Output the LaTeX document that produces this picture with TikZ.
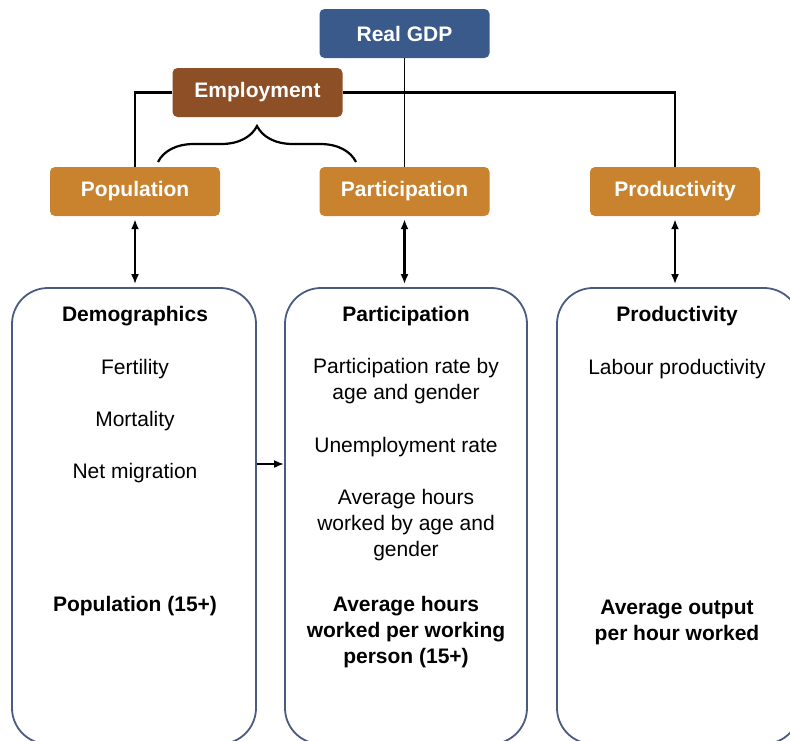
\documentclass[tikz,border=0pt]{standalone}
\usepackage{fontspec}
\setmainfont{Liberation Sans}
\usetikzlibrary{arrows.meta,decorations.pathreplacing}
\definecolor{gdpblue}{HTML}{3A5A8C}
\definecolor{empbrown}{HTML}{8C4F26}
\definecolor{factorange}{HTML}{C9832F}
\definecolor{colline}{HTML}{4A5A80}
\newcommand{\bigtext}{\fontsize{21}{26}\selectfont}
\tikzset{
	head/.style = {rounded corners = 5pt, text = white, font = \bigtext\bfseries, minimum width = 170pt, minimum height = 49pt},
	col/.style = {draw = colline, line width = 1.8pt, rounded corners = 36pt, minimum height = 456pt},
	item/.style = {align = center, font = \bigtext},
	bolditem/.style = {align = center, font = \bigtext\bfseries},
	link/.style = {line width = 2.2pt},
	dbl/.style = {line width = 2.2pt, {Latex[length=10pt,width=8pt]}-{Latex[length=10pt,width=8pt]}, shorten <= 3pt, shorten >= 3pt}
}
\begin{document}
\begin{tikzpicture}[x = 1pt, y = -1pt]
	\useasboundingbox (0,0) rectangle (790,740);
	\node[head, fill = gdpblue] (gdp) at (404.5,33.5) {Real GDP};
	\node[head, fill = empbrown] (emp) at (257.5,92.5) {Employment};
	\node[head, fill = factorange] (pop) at (135,191.5) {Population};
	\node[head, fill = factorange] (part) at (404.5,191.5) {Participation};
	\node[head, fill = factorange] (prod) at (675,191.5) {Productivity};
	\draw[line width = 1.4pt] (gdp.south) -- (part.north);
	\draw[link] (emp.west) -| (pop.north); %employment = population x participation
	\draw[link] (emp.east) -| (prod.north);
	\draw[link, decorate, decoration = {brace, amplitude = 36pt}] (158,162) -- (356,162);
	% the three columns, running off the bottom
	\node[col, minimum width = 244pt] (demo) at (134,516) {};
	\node[col, minimum width = 242pt] (partcol) at (406,516) {};
	\node[col, minimum width = 243pt] (prodcol) at (678.5,516) {};
	\draw[dbl] (pop.south) -- (pop.south |- demo.north);
	\draw[dbl] (part.south) -- (part.south |- partcol.north);
	\draw[dbl] (prod.south) -- (prod.south |- prodcol.north);
	\coordinate (feed) at (270,464);
	\draw[link, -{Latex[length=10pt,width=8pt]}] (demo.east |- feed) -- (partcol.west |- feed);
	% demographics
	\node[bolditem] (demohead) at (135,316) {Demographics};
	\node[item] (fert) at (135,369) {Fertility};
	\node[item] (mort) at (135,421) {Mortality};
	\node[item] (netmig) at (135,473) {Net migration};
	\node[bolditem] (popadult) at (135,606) {Population (15+)};
	% participation
	\node[bolditem] (parthead) at (406,316) {Participation};
	\node[item] (partrate) at (406,381.5) {Participation rate by\\age and gender};
	\node[item] (unemp) at (406,447) {Unemployment rate};
	\node[item] (hoursby) at (406,525) {Average hours\\worked by age and\\gender};
	\node[bolditem] (hoursper) at (406,632) {Average hours\\worked per working\\person (15+)};
	% productivity
	\node[bolditem] (prodhead) at (677,316) {Productivity};
	\node[item] (labprod) at (677,369) {Labour productivity};
	\node[bolditem] (outph) at (677,622.5) {Average output\\per hour worked};
\end{tikzpicture}
\end{document}
